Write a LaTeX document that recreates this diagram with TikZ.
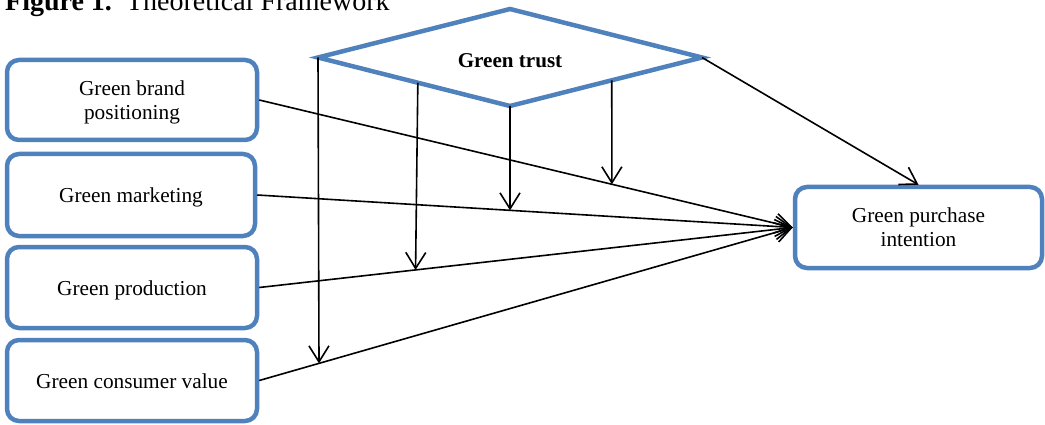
\documentclass[tikz,border=0pt]{standalone}
\usepackage{fontspec}
\setmainfont{Liberation Serif}
\usetikzlibrary{arrows.meta,shapes.geometric,calc}
\definecolor{boxblue}{RGB}{79,129,189}
\begin{document}
\begin{tikzpicture}[x=1pt,y=-1pt,
  box/.style={draw=boxblue,line width=4.5pt,rounded corners=12pt,fill=white,align=center,inner sep=0pt,font=\fontsize{21.3}{24}\selectfont},
  oneline/.style={text height=16pt,text depth=0pt},
  twoline/.style={text depth=0pt},
  trust/.style={diamond,aspect=3.96,draw=boxblue,line width=4.5pt,inner sep=0pt,outer sep=0pt,text height=20pt,text depth=0pt,font=\bfseries\fontsize{21.1}{24}\selectfont},
  conn/.style={line width=1.6pt,-{Straight Barb[length=16pt,width=20pt]}},
  titletext/.style={anchor=base west,inner sep=0pt,font=\fontsize{28}{32}\selectfont}]
\useasboundingbox (0,0) rectangle (1045,425);
\clip (0,0) rectangle (1045,425);

\node[titletext] (title) at (5,11) {\textbf{Figure 1.}\hspace{14pt}Theoretical Framework};

\node[box,twoline,minimum width=250pt,minimum height=80pt] (b1) at (132,100) {Green brand\\positioning};
\node[box,oneline,minimum width=248pt,minimum height=82pt] (b2) at (131,195) {Green marketing};
\node[box,oneline,minimum width=250pt,minimum height=81pt] (b3) at (132,287.5) {Green production};
\node[box,oneline,minimum width=250pt,minimum height=81pt] (b4) at (132,380.5) {Green consumer value};
\node[box,twoline,minimum width=247pt,minimum height=81pt] (pi) at (918.5,227.5) {Green purchase\\intention};
\node[trust,minimum width=384pt,minimum height=97pt] (gt) at (510,57.5) {Green trust};

\coordinate (gtl) at ($(gt.west)!0.52!(gt.south)$);
\coordinate (gtr) at ($(gt.south)!0.53!(gt.east)$);

\draw[conn] (b1.east) -- coordinate[pos=0.661] (m1) (pi.west);
\draw[conn] (b2.east) -- coordinate[pos=0.472] (m2) (pi.west);
\draw[conn] (b3.east) -- coordinate[pos=0.293] (m3) (pi.west);
\draw[conn] (b4.east) -- coordinate[pos=0.112] (m4) (pi.west);

\draw[conn] (gt.west) -- (m4);
\draw[conn] (gtl) -- (m3);
\draw[conn] (gt.south) -- (m2);
\draw[conn] (gtr) -- (m1);
\draw[conn] (gt.east) -- (pi.north);
\end{tikzpicture}
\end{document}
